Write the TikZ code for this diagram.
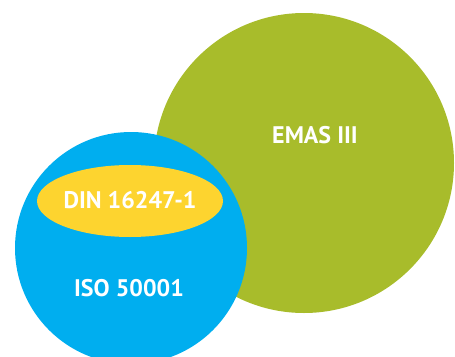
\documentclass[tikz,border=0pt]{standalone}
\usepackage{fontspec}
\setmainfont{PT Sans}
\definecolor{emasgreen}{HTML}{A8BC2B}
\definecolor{isoblue}{HTML}{00AEEF}
\definecolor{dinyellow}{HTML}{FDD42F}
\tikzset{
  lbl/.style={text=white, font=\bfseries\fontsize{24}{24}\selectfont, inner sep=0pt},
}
\begin{document}
\begin{tikzpicture}[x=1pt,y=-1pt]
\useasboundingbox (0,0) rectangle (455,356);
\clip (0,0) rectangle (455,356);
\fill[emasgreen] (304,163) circle[radius=150];
\fill[isoblue] (131,248) circle[radius=116];
\fill[dinyellow] (130,201) ellipse[x radius=93, y radius=36];
\node[lbl] (emas) at (315,135) {EMAS III};
\node[lbl] (din) at (130,200) {DIN 16247-1};
\node[lbl] (iso) at (129,288) {ISO 50001};
\end{tikzpicture}
\end{document}
